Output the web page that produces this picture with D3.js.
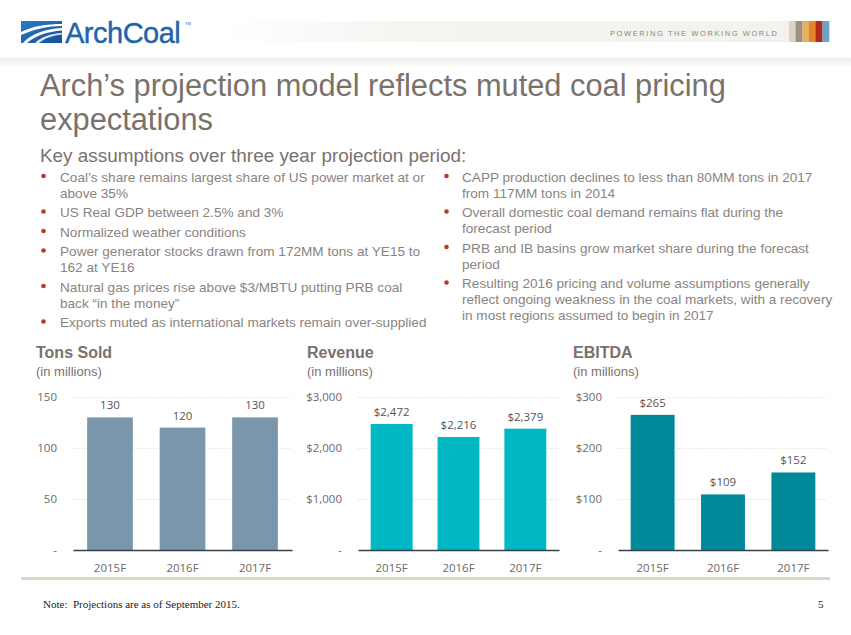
<!DOCTYPE html>
<html>
<head>
<meta charset="utf-8">
<script src="https://cdn.jsdelivr.net/npm/d3@7"></script>
<style>
  html, body { margin: 0; padding: 0; background: #ffffff; }
  svg { display: block; }
</style>
</head>
<body>
<svg id="chart" width="851" height="635"></svg>
<script>
// ---------------- DATA ----------------
const years = ["2015F", "2016F", "2017F"];
const tonsSold = [130, 120, 130];
const revenue = [2472, 2216, 2379];
const ebitda = [265, 109, 152];
const tonsTicks = [0, 50, 100, 150];
const revenueTicks = [0, 1000, 2000, 3000];
const ebitdaTicks = [0, 100, 200, 300];

const titleLines = ["Arch\u2019s projection model reflects muted coal pricing", "expectations"];
const subtitle = "Key assumptions over three year projection period:";
const leftBullets = [
  ["Coal\u2019s share remains largest share of US power market at or", "above 35%"],
  ["US Real GDP between 2.5% and 3%"],
  ["Normalized weather conditions"],
  ["Power generator stocks drawn from 172MM tons at YE15 to", "162 at YE16"],
  ["Natural gas prices rise above $3/MBTU putting PRB coal", "back \u201cin the money\u201d"],
  ["Exports muted as international markets remain over-supplied"]
];
const rightBullets = [
  ["CAPP production declines to less than 80MM tons in 2017", "from 117MM tons in 2014"],
  ["Overall domestic coal demand remains flat during the", "forecast period"],
  ["PRB and IB basins grow market share during the forecast", "period"],
  ["Resulting 2016 pricing and volume assumptions generally", "reflect ongoing weakness in the coal markets, with a recovery", "in most regions assumed to begin in 2017"]
];
const tagline = "POWERING THE WORKING WORLD";
const stripeColors = ["#d9d5c5", "#9b9087", "#e2b25e", "#e8822c", "#b52a1f", "#6ea3c9"];
const noteText = "Note:  Projections are as of September 2015.";
const pageNumber = "5";

// ---------------- DRAW ----------------
const svg = d3.select("#chart");
const defs = svg.append("defs");
svg.append("rect").attr("width", 851).attr("height", 635).attr("fill", "#ffffff");

const textGray = "#7b716b";
const bulletGray = "#8a8480";

// header band
const topGrad = defs.append("linearGradient").attr("id", "topGrad").attr("x1", 0).attr("x2", 0).attr("y1", 0).attr("y2", 1);
topGrad.append("stop").attr("offset", 0).attr("stop-color", "#eeede9");
topGrad.append("stop").attr("offset", 1).attr("stop-color", "#ffffff");
svg.append("rect").attr("x", 0).attr("y", 58).attr("width", 851).attr("height", 10).attr("fill", "url(#topGrad)");

const bandGrad = defs.append("linearGradient").attr("id", "bandGrad").attr("x1", 0).attr("x2", 1).attr("y1", 0).attr("y2", 0);
bandGrad.append("stop").attr("offset", 0).attr("stop-color", "#ffffff");
bandGrad.append("stop").attr("offset", 0.35).attr("stop-color", "#f5f4f0");
bandGrad.append("stop").attr("offset", 1).attr("stop-color", "#f3f2ee");
svg.append("rect").attr("x", 220).attr("y", 21).attr("width", 569).attr("height", 21).attr("fill", "url(#bandGrad)");
svg.append("text").attr("x", 610).attr("y", 35.5)
  .attr("font-family", "Liberation Sans, Arial, sans-serif").attr("font-size", 7.5)
  .attr("fill", "#8c8680").attr("textLength", 167).attr("lengthAdjust", "spacing")
  .text(tagline);
const stripeX = d3.scaleBand().domain(d3.range(stripeColors.length)).range([789, 829]);
svg.selectAll("rect.stripe").data(stripeColors).join("rect").attr("class", "stripe")
  .attr("x", (d, i) => stripeX(i)).attr("y", 21).attr("width", stripeX.bandwidth() + 0.3).attr("height", 21)
  .attr("fill", d => d);

// logo
const logoGrad = defs.append("linearGradient").attr("id", "logoGrad").attr("x1", 0).attr("x2", 1).attr("y1", 0).attr("y2", 1);
logoGrad.append("stop").attr("offset", 0).attr("stop-color", "#2a7cc4");
logoGrad.append("stop").attr("offset", 1).attr("stop-color", "#174f9c");
const logo = svg.append("g").attr("transform", "translate(21,21)");
logo.append("rect").attr("width", 41).attr("height", 22).attr("fill", "url(#logoGrad)");
logo.append("path").attr("d", "M0,11 C12,5 26,3 41,3 L41,5 C27,5 14,8 0,14 Z").attr("fill", "#ffffff");
logo.append("path").attr("d", "M2,22 C10,13 24,8 41,7 L41,9.5 C26,10.5 14,15 6,22 Z").attr("fill", "#ffffff");
logo.append("path").attr("d", "M14,22 C20,16 30,12.5 41,12 L41,13.5 C31,14.5 23,17.5 18,22 Z").attr("fill", "#ffffff").attr("opacity", 0.85);
svg.append("text").attr("x", 65).attr("y", 42.5)
  .attr("font-family", "Liberation Sans, Arial, sans-serif").attr("font-size", 29)
  .attr("fill", "#1f63ad").attr("stroke", "#1f63ad").attr("stroke-width", 0.4)
  .attr("letter-spacing", -0.5).text("ArchCoal");
svg.append("text").attr("x", 185).attr("y", 25).attr("font-family", "Liberation Sans, Arial, sans-serif")
  .attr("font-size", 4).attr("fill", "#1f63ad").text("TM");

// title
svg.selectAll("text.title").data(titleLines).join("text").attr("class", "title")
  .attr("x", 40).attr("y", (d, i) => 95.5 + i * 34.5)
  .attr("font-family", "Liberation Sans, Arial, sans-serif").attr("font-size", 30.8)
  .attr("fill", textGray).text(d => d);
svg.append("text").attr("x", 40).attr("y", 162)
  .attr("font-family", "Liberation Sans, Arial, sans-serif").attr("font-size", 18.9)
  .attr("fill", textGray).text(subtitle);

// bullets
function drawBullets(list, bx, tx, y0) {
  let y = y0;
  list.forEach(lines => {
    svg.append("circle").attr("cx", bx).attr("cy", y - 5.5).attr("r", 2.3).attr("fill", "#b5392c");
    lines.forEach((ln, j) => {
      svg.append("text").attr("x", tx).attr("y", y + j * 16)
        .attr("font-family", "Liberation Sans, Arial, sans-serif").attr("font-size", 13.6)
        .attr("fill", bulletGray).text(ln);
    });
    y += lines.length * 16 + 3.5;
  });
}
drawBullets(leftBullets, 43.5, 60, 181.5);
drawBullets(rightBullets, 446.5, 462, 181.5);

// charts
const panels = [
  { title: "Tons Sold", tx: 36, values: tonsSold, ticks: tonsTicks, x0: 73, x1: 292, pi: 0.37, po: 0.195, color: "#7a96aa",
    fmt: v => v === 0 ? "-" : d3.format(",")(v), vfmt: d3.format(",") },
  { title: "Revenue", tx: 307, values: revenue, ticks: revenueTicks, x0: 358, x1: 559, pi: 0.373, po: 0.19, color: "#00b7c4",
    fmt: v => v === 0 ? "-" : d3.format("$,")(v), vfmt: d3.format("$,") },
  { title: "EBITDA", tx: 573, values: ebitda, ticks: ebitdaTicks, x0: 618, x1: 828, pi: 0.376, po: 0.18, color: "#008a99",
    fmt: v => v === 0 ? "-" : d3.format("$,")(v), vfmt: d3.format("$,") }
];
const yTop = 397, yBot = 550;
const tickFont = "Open Sans, Lato, sans-serif";

panels.forEach(p => {
  const g = svg.append("g");
  g.append("text").attr("x", p.tx).attr("y", 358).attr("font-family", "Liberation Sans, Arial, sans-serif")
    .attr("font-size", 16).attr("font-weight", "bold").attr("fill", textGray).text(p.title);
  g.append("text").attr("x", p.tx).attr("y", 376).attr("font-family", "Liberation Sans, Arial, sans-serif")
    .attr("font-size", 13).attr("fill", textGray).text("(in millions)");

  const y = d3.scaleLinear().domain([0, d3.max(p.ticks)]).range([yBot, yTop]);
  const x = d3.scaleBand().domain(years).range([p.x0, p.x1]).paddingInner(p.pi).paddingOuter(p.po);

  const yAxis = g.append("g").attr("transform", `translate(${p.x0},0)`)
    .call(d3.axisLeft(y).tickValues(p.ticks).tickFormat(p.fmt).tickSize(-(p.x1 - p.x0)).tickPadding(16));
  yAxis.select(".domain").remove();
  yAxis.selectAll(".tick line").attr("stroke", "#e3e3e3").attr("stroke-dasharray", "1.5,1.5")
    .filter(d => d === 0).remove();
  yAxis.selectAll(".tick text").attr("font-family", tickFont).attr("font-size", 11.5).attr("fill", "#6a6a6a");

  g.selectAll("rect.bar").data(p.values).join("rect").attr("class", "bar")
    .attr("x", (d, i) => x(years[i])).attr("width", x.bandwidth())
    .attr("y", d => y(d)).attr("height", d => yBot - y(d)).attr("fill", p.color);

  g.selectAll("text.val").data(p.values).join("text").attr("class", "val")
    .attr("x", (d, i) => x(years[i]) + x.bandwidth() / 2).attr("y", d => y(d) - 8)
    .attr("text-anchor", "middle").attr("font-family", tickFont).attr("font-size", 11.5)
    .attr("fill", "#555555").text(p.vfmt);

  const xAxis = g.append("g").attr("transform", `translate(0,${yBot})`)
    .call(d3.axisBottom(x).tickSize(0).tickPadding(14));
  xAxis.select(".domain").attr("stroke", "#37414b").attr("stroke-width", 1.6);
  xAxis.selectAll(".tick text").attr("font-family", tickFont).attr("font-size", 11.5).attr("fill", "#6a6a6a");
});

// bottom rule
svg.append("rect").attr("x", 21).attr("y", 577).attr("width", 809).attr("height", 3).attr("fill", "#dcd8c8");

// footer
svg.append("text").attr("x", 43).attr("y", 608).attr("font-family", "Liberation Serif, Times New Roman, serif")
  .attr("font-size", 11).attr("fill", "#222").style("white-space", "pre").text(noteText);
svg.append("text").attr("x", 818).attr("y", 608).attr("font-family", "Liberation Serif, Times New Roman, serif")
  .attr("font-size", 11).attr("fill", "#222").text(pageNumber);
</script>
</body>
</html>
